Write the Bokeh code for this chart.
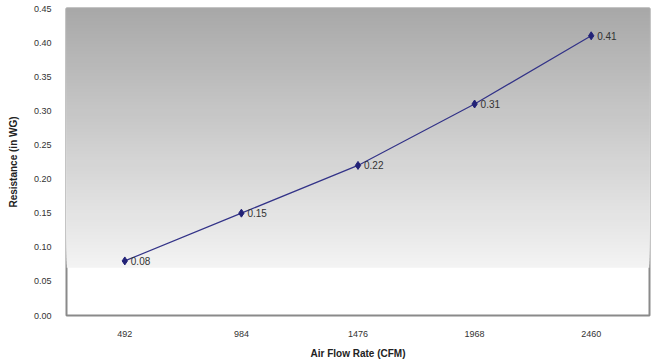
from bokeh.plotting import figure
from bokeh.models import ColumnDataSource, BoxAnnotation, Range1d, FactorRange, SingleIntervalTicker, PrintfTickFormatter
from bokeh.core.properties import value
from bokeh.embed import file_html
from bokeh.resources import INLINE

airflow = ["492", "984", "1476", "1968", "2460"]
resistance = [0.08, 0.15, 0.22, 0.31, 0.41]
labels = ["0.08", "0.15", "0.22", "0.31", "0.41"]

src = ColumnDataSource(dict(x=airflow, y=resistance, lab=labels))

p = figure(frame_width=583, frame_height=307, output_backend="svg", toolbar_location=None,
           x_range=FactorRange(*airflow), y_range=Range1d(0, 0.45),
           min_border_left=66, min_border_right=3, min_border_top=8, min_border_bottom=0)

p.background_fill_color = "white"
p.border_fill_color = "white"
p.outline_line_color = "#8a8a8a"
p.outline_line_width = 2
p.grid.visible = False

# vertical gradient background: gray top -> light near bottom, white below (overlapping bands)
n = 80
top_c = (168, 168, 168)
bot_c = (243, 243, 243)
white_y = 0.07
for i in range(n):
    b = white_y + (0.45 - white_y) * i / n
    f = (i + 0.5) / n
    c = tuple(int(round(bc + (tc - bc) * f)) for tc, bc in zip(top_c, bot_c))
    p.add_layout(BoxAnnotation(bottom=b, top=0.46, fill_color="#%02x%02x%02x" % c,
                               fill_alpha=1.0, line_alpha=0, level="underlay"))

p.line("x", "y", source=src, line_color="#333388", line_width=1.2)
p.scatter("x", "y", source=src, marker="diamond", size=8, fill_color="#222277", line_color="#222277")
p.text("x", "y", text="lab", source=src, x_offset=6, text_baseline="middle",
       text_font=value("Liberation Sans"), text_font_size="10px", text_color="#333333")

p.yaxis.ticker = SingleIntervalTicker(interval=0.05)
p.yaxis.formatter = PrintfTickFormatter(format="%.2f")

for ax in (p.xaxis[0], p.yaxis[0]):
    ax.axis_line_color = None
    ax.major_tick_line_color = None
    ax.minor_tick_line_color = None
    ax.major_label_text_font = "Liberation Sans"
    ax.major_label_text_font_size = "9px"
    ax.major_label_text_color = "#333333"
    ax.axis_label_text_font = "Liberation Sans"
    ax.axis_label_text_font_size = "10px"
    ax.axis_label_text_font_style = "bold"
    ax.axis_label_text_color = "#222222"

p.xaxis.axis_label = "Air Flow Rate (CFM)"
p.yaxis.axis_label = "Resistance (in WG)"
p.xaxis.major_label_standoff = 9
p.xaxis.axis_label_standoff = 8
p.yaxis.major_label_standoff = 9
p.yaxis.axis_label_standoff = 12

open("out.html", "w").write(file_html(p, INLINE))
